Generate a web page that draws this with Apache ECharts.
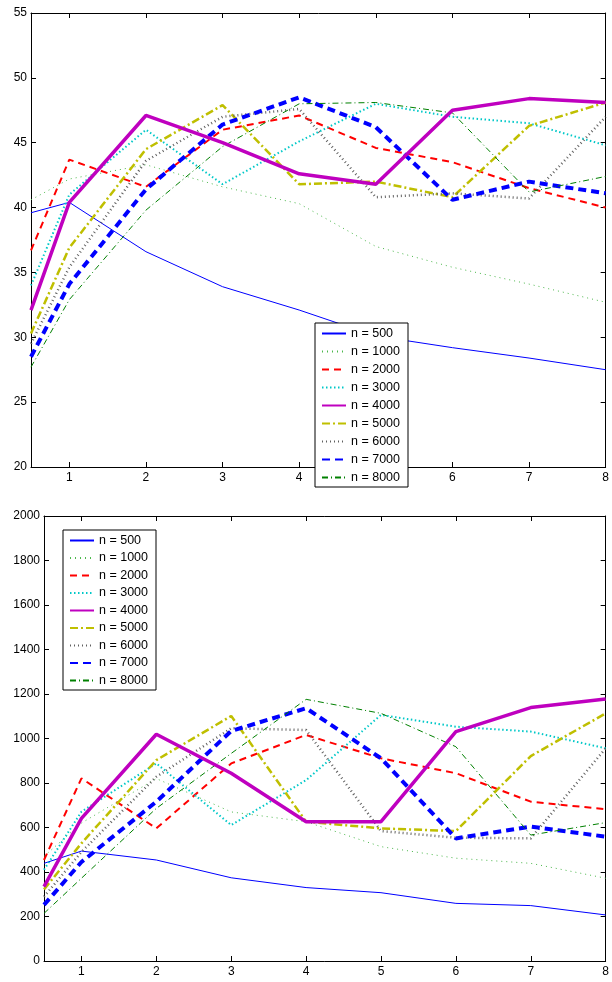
<!DOCTYPE html>
<html>
<head>
<meta charset="utf-8">
<script src="https://cdn.jsdelivr.net/npm/echarts@6/dist/echarts.min.js"></script>
<style>
  html, body { margin: 0; padding: 0; background: #fff; }
  #chart { width: 612px; height: 982px; }
</style>
</head>
<body>
<div id="chart"></div>
<script>
// x positions (left edge of the axis is 0.5)
var xs = [0.5, 1, 2, 3, 4, 5, 6, 7, 8]
var xTicks = [1, 2, 3, 4, 5, 6, 7, 8]
var names = ['n = 500', 'n = 1000', 'n = 2000', 'n = 3000', 'n = 4000',
  'n = 5000', 'n = 6000', 'n = 7000', 'n = 8000']

// upper plot
var top500 = [39.6, 40.4, 36.6, 33.9, 32.1, 30.1, 29.2, 28.4, 27.5]
var top1000 = [40.6, 42.2, 43.3, 41.6, 40.3, 37.0, 35.4, 34.1, 32.7]
var top2000 = [36.7, 43.7, 41.6, 46.0, 47.1, 44.6, 43.5, 41.5, 40.0]
var top3000 = [34.0, 41.0, 46.0, 41.8, 45.1, 48.0, 47.0, 46.5, 44.8]
var top4000 = [32.1, 40.4, 47.1, 45.0, 42.6, 41.8, 47.5, 48.4, 48.1]
var top5000 = [30.3, 36.9, 44.5, 47.9, 41.8, 42.0, 40.8, 46.3, 48.1]
var top6000 = [29.5, 35.4, 43.6, 47.0, 47.6, 40.8, 41.1, 40.7, 47.0]
var top7000 = [28.5, 34.1, 41.4, 46.4, 48.5, 46.2, 40.6, 42.0, 41.1]
var top8000 = [27.7, 32.9, 39.8, 44.7, 48.0, 48.1, 47.3, 41.2, 42.4]

// lower plot
var bot500 = [439, 494, 454, 374, 330, 307, 259, 249, 207]
var bot1000 = [470, 620, 820, 670, 626, 514, 462, 439, 372]
var bot2000 = [454, 821, 596, 888, 1016, 911, 844, 716, 682]
var bot3000 = [410, 671, 888, 611, 813, 1106, 1053, 1031, 956]
var bot4000 = [334, 641, 1019, 844, 626, 626, 1031, 1139, 1178]
var bot5000 = [322, 529, 903, 1101, 626, 596, 584, 921, 1113]
var bot6000 = [289, 490, 828, 1046, 1038, 584, 554, 551, 956]
var bot7000 = [252, 445, 716, 1034, 1136, 911, 551, 604, 559]
var bot8000 = [214, 372, 686, 933, 1176, 1113, 963, 566, 622]

var topSets = [top500, top1000, top2000, top3000, top4000, top5000, top6000, top7000, top8000]
var botSets = [bot500, bot1000, bot2000, bot3000, bot4000, bot5000, bot6000, bot7000, bot8000]

// matlab-ish line styles
var styles = [
  { color: '#0000ff', width: 1, type: 'solid' },
  { color: '#4cb84c', width: 1, type: [1, 4] },
  { color: '#ff0000', width: 2, type: [7, 5] },
  { color: '#00c8c8', width: 2, type: [1.5, 2.5] },
  { color: '#bf00bf', width: 3.5, type: 'solid' },
  { color: '#bfbf00', width: 2.5, type: [8, 3, 2, 3] },
  { color: '#606060', width: 2.5, type: [1, 3] },
  { color: '#0000ff', width: 4, type: [8, 5] },
  { color: '#008000', width: 1, type: [6, 3, 1, 3] }
]

var font = 'Liberation Sans, Arial, sans-serif'
var chart = echarts.init(document.getElementById('chart'))

function xAx(grid, pos) {
  var main = pos === 'bottom'
  return {
    type: 'value', gridIndex: grid, position: pos, min: 0.5, max: 8,
    axisLine: { onZero: false, lineStyle: { color: '#000', width: 1 } },
    axisTick: { inside: true, length: 5, customValues: xTicks, lineStyle: { color: '#000' } },
    axisLabel: { show: main, customValues: xTicks, color: '#000', fontSize: 12, fontFamily: font, margin: 5 },
    splitLine: { show: false }
  }
}
function yAx(grid, pos, min, max, step) {
  var main = pos === 'left'
  return {
    type: 'value', gridIndex: grid, position: pos, min: min, max: max, interval: step,
    axisLine: { show: true, onZero: false, lineStyle: { color: '#000', width: 1 } },
    axisTick: { show: true, inside: true, length: 5, lineStyle: { color: '#000' } },
    axisLabel: {
      show: main, color: '#000', fontSize: 12, fontFamily: font, margin: 4,
      formatter: function (v) { return String(v) }
    },
    splitLine: { show: false }
  }
}

var series = []
function addSeries(sets, xi, yi) {
  sets.forEach(function (vals, i) {
    var s = styles[i]
    series.push({
      name: names[i], type: 'line', xAxisIndex: xi, yAxisIndex: yi,
      symbol: 'none', animation: false, z: i === 4 ? 3 : 2,
      lineStyle: { color: s.color, width: s.width, type: s.type, cap: 'butt' },
      itemStyle: { color: s.color },
      data: xs.map(function (x, k) { return [x, vals[k]] })
    })
  })
}
addSeries(topSets, 0, 0)
addSeries(botSets, 2, 2)

function legend(left, top, gap) {
  return {
    data: names, orient: 'vertical', left: left, top: top,
    itemWidth: 24, itemHeight: 10, itemGap: gap,
    padding: [4, 8, 3, 6], backgroundColor: '#fff',
    borderColor: '#000', borderWidth: 1, borderRadius: 0,
    selectedMode: false,
    itemStyle: { opacity: 0 },
    textStyle: { color: '#000', fontSize: 12.5, fontFamily: font }
  }
}

var option = {
  backgroundColor: '#fff',
  animation: false,
  grid: [
    { left: 31, top: 13, width: 576, height: 454 },
    { left: 44, top: 516, width: 563, height: 445 }
  ],
  xAxis: [xAx(0, 'bottom'), xAx(0, 'top'), xAx(1, 'bottom'), xAx(1, 'top')],
  yAxis: [yAx(0, 'left', 20, 55, 5), yAx(0, 'right', 20, 55, 5),
    yAx(1, 'left', 0, 2000, 200), yAx(1, 'right', 0, 2000, 200)],
  legend: [legend(315, 323, 5), legend(63, 530, 4.5)],
  series: series
}
chart.setOption(option)
</script>
</body>
</html>
